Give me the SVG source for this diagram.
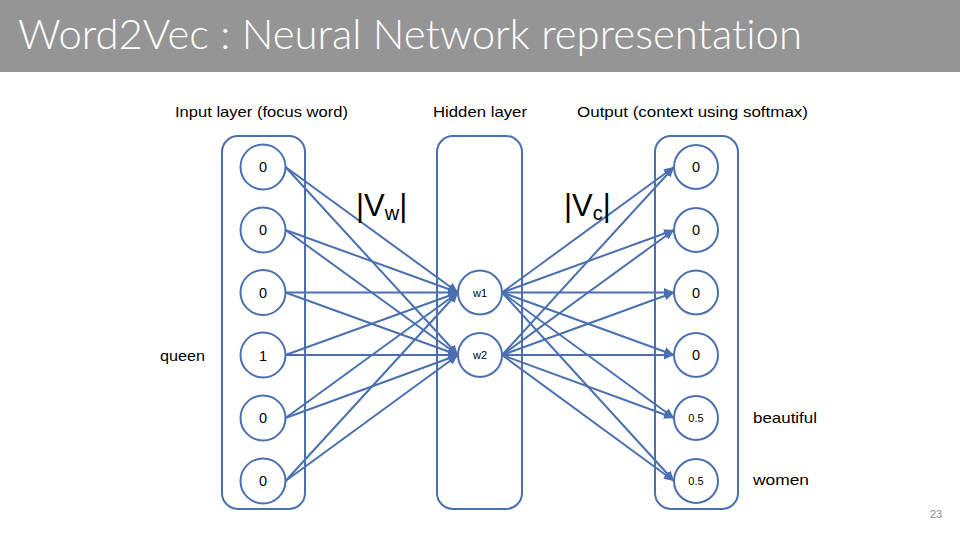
<svg xmlns="http://www.w3.org/2000/svg" width="960" height="540" viewBox="0 0 960 540">
<defs>
<style>
.box{fill:#ffffff;stroke:#4a70b0;stroke-width:2}
.nd{fill:#ffffff;stroke:#4a70b0;stroke-width:2}
.cn{stroke:#4a70b0;stroke-width:2;fill:none;marker-end:url(#ah)}
.t{font-family:"Liberation Sans",Arial,sans-serif;fill:#000000}
.lbl{font-size:15px}
.v0{font-size:14.5px;text-anchor:middle}
.vs{font-size:11px;text-anchor:middle}
.ttl{font-family:Lato,"Liberation Sans",sans-serif;font-weight:300;font-variant-ligatures:none;font-size:42px;fill:#ffffff}
</style>
<marker id="ah" markerUnits="userSpaceOnUse" markerWidth="12" markerHeight="10" refX="10" refY="4.5" orient="auto">
<path d="M0,0 L10,4.5 L0,9 Z" fill="#4a70b0"/>
</marker>
</defs>
<rect width="960" height="540" fill="#ffffff"/>
<g id="title">
<rect x="0" y="0" width="960" height="72" fill="#959595"/>
<text class="ttl" x="18" y="49" textLength="784" lengthAdjust="spacingAndGlyphs">Word2Vec : Neural Network representation</text>
</g>
<g id="layer-labels">
<text class="t lbl" x="175" y="117" textLength="173" lengthAdjust="spacingAndGlyphs">Input layer (focus word)</text>
<text class="t lbl" x="433" y="117" textLength="94" lengthAdjust="spacingAndGlyphs">Hidden layer</text>
<text class="t lbl" x="577" y="117" textLength="231" lengthAdjust="spacingAndGlyphs">Output (context using softmax)</text>
</g>
<g id="input-layer"><rect class="box" x="222" y="136" width="83" height="373" rx="16"/></g>
<g id="hidden-layer"><rect class="box" x="437" y="136" width="85" height="373" rx="16"/></g>
<g id="output-layer"><rect class="box" x="655" y="136" width="83" height="373" rx="16"/></g>
<g id="connectors">
<line class="cn" x1="285.5" y1="167" x2="458" y2="292.5"/>
<line class="cn" x1="285.5" y1="167" x2="458" y2="355"/>
<line class="cn" x1="285.5" y1="230" x2="458" y2="292.5"/>
<line class="cn" x1="285.5" y1="230" x2="458" y2="355"/>
<line class="cn" x1="285.5" y1="292.5" x2="458" y2="292.5"/>
<line class="cn" x1="285.5" y1="292.5" x2="458" y2="355"/>
<line class="cn" x1="285.5" y1="355" x2="458" y2="292.5"/>
<line class="cn" x1="285.5" y1="355" x2="458" y2="355"/>
<line class="cn" x1="285.5" y1="418" x2="458" y2="292.5"/>
<line class="cn" x1="285.5" y1="418" x2="458" y2="355"/>
<line class="cn" x1="285.5" y1="481" x2="458" y2="292.5"/>
<line class="cn" x1="285.5" y1="481" x2="458" y2="355"/>
<line class="cn" x1="502" y1="292.5" x2="674" y2="167"/>
<line class="cn" x1="502" y1="292.5" x2="674" y2="230"/>
<line class="cn" x1="502" y1="292.5" x2="674" y2="292.5"/>
<line class="cn" x1="502" y1="292.5" x2="674" y2="355"/>
<line class="cn" x1="502" y1="292.5" x2="674" y2="418"/>
<line class="cn" x1="502" y1="292.5" x2="674" y2="481"/>
<line class="cn" x1="502" y1="355" x2="674" y2="167"/>
<line class="cn" x1="502" y1="355" x2="674" y2="230"/>
<line class="cn" x1="502" y1="355" x2="674" y2="292.5"/>
<line class="cn" x1="502" y1="355" x2="674" y2="355"/>
<line class="cn" x1="502" y1="355" x2="674" y2="418"/>
<line class="cn" x1="502" y1="355" x2="674" y2="481"/>
</g>
<g id="in1"><circle class="nd" cx="263" cy="167" r="22.5"/><text class="t v0" x="263" y="172">0</text></g>
<g id="in2"><circle class="nd" cx="263" cy="230" r="22.5"/><text class="t v0" x="263" y="235">0</text></g>
<g id="in3"><circle class="nd" cx="263" cy="292.5" r="22.5"/><text class="t v0" x="263" y="297.5">0</text></g>
<g id="in4"><circle class="nd" cx="263" cy="355" r="22.5"/><text class="t v0" x="263" y="360.5" font-size="16px">1</text></g>
<g id="in5"><circle class="nd" cx="263" cy="418" r="22.5"/><text class="t v0" x="263" y="423">0</text></g>
<g id="in6"><circle class="nd" cx="263" cy="481" r="22.5"/><text class="t v0" x="263" y="486">0</text></g>
<g id="w1"><circle class="nd" cx="480" cy="292.5" r="22"/><text class="t vs" x="480" y="296.5">w1</text></g>
<g id="w2"><circle class="nd" cx="480" cy="355" r="22"/><text class="t vs" x="480" y="359">w2</text></g>
<g id="out1"><circle class="nd" cx="696" cy="167" r="22"/><text class="t v0" x="696" y="172">0</text></g>
<g id="out2"><circle class="nd" cx="696" cy="230" r="22"/><text class="t v0" x="696" y="235">0</text></g>
<g id="out3"><circle class="nd" cx="696" cy="292.5" r="22"/><text class="t v0" x="696" y="297.5">0</text></g>
<g id="out4"><circle class="nd" cx="696" cy="355" r="22"/><text class="t v0" x="696" y="360">0</text></g>
<g id="out5"><circle class="nd" cx="696" cy="418" r="22"/><text class="t vs" x="696" y="422">0.5</text></g>
<g id="out6"><circle class="nd" cx="696" cy="481" r="22"/><text class="t vs" x="696" y="485">0.5</text></g>
<g id="side-labels">
<text class="t lbl" x="160" y="360.5" textLength="45" lengthAdjust="spacingAndGlyphs">queen</text>
<text class="t lbl" x="753" y="422.5" textLength="64" lengthAdjust="spacingAndGlyphs">beautiful</text>
<text class="t lbl" x="753" y="485" textLength="56" lengthAdjust="spacingAndGlyphs">women</text>
<text class="t" x="356" y="216" font-size="31">|V<tspan font-size="20" dy="4">w</tspan><tspan dy="-4">|</tspan></text>
<text class="t" x="564" y="216" font-size="31">|V<tspan font-size="20" dy="4">c</tspan><tspan dy="-4">|</tspan></text>
<text x="930" y="518" font-family="'Liberation Sans',Arial,sans-serif" font-size="11" fill="#8c8c8c">23</text>
</g>
</svg>
